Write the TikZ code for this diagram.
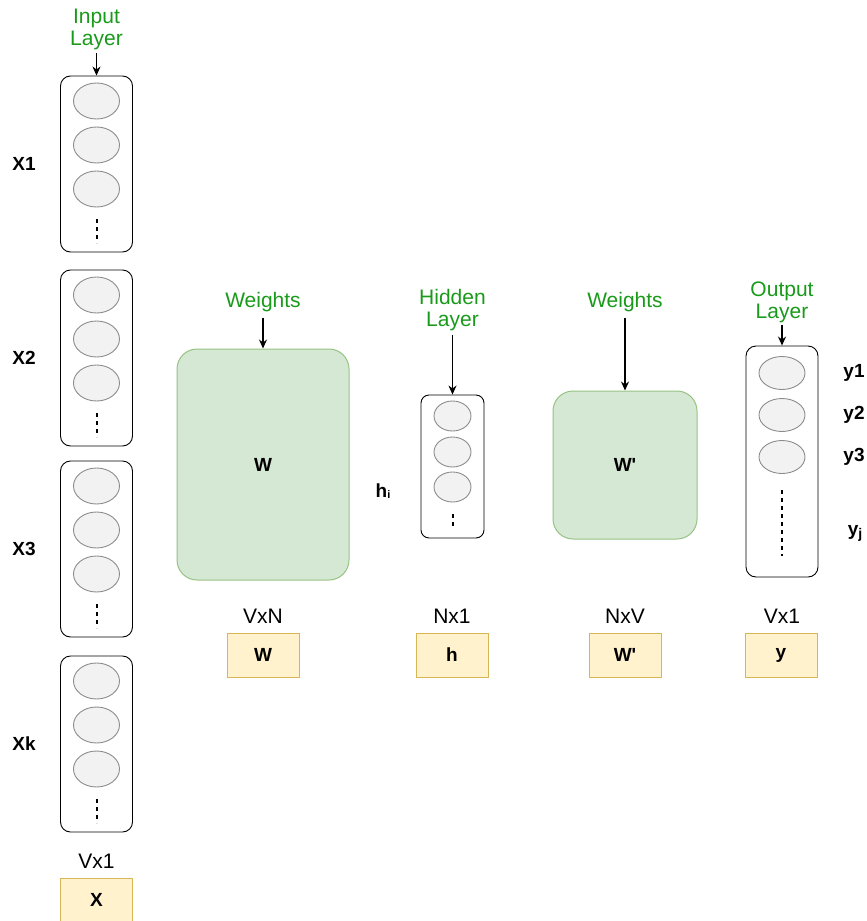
\documentclass[tikz,border=0pt]{standalone}
\usepackage{fontspec}
\setmainfont{Liberation Sans}
\usetikzlibrary{arrows.meta,shapes.geometric}
\definecolor{lblgreen}{HTML}{1A9A1A}
\definecolor{wfill}{HTML}{D5E8D4}
\definecolor{wdraw}{HTML}{97C283}
\definecolor{yfill}{HTML}{FFF2CC}
\definecolor{ydraw}{HTML}{D6B656}
\definecolor{cfill}{HTML}{F2F2F2}
\definecolor{cdraw}{HTML}{8C8C8C}
\begin{document}
\begin{tikzpicture}[x=1pt,y=-1pt,
  lbl/.style={text=lblgreen, font=\fontsize{21}{22}\selectfont, align=center, inner sep=0pt},
  dimlbl/.style={font=\fontsize{21}{24}\selectfont, inner sep=0pt},
  boldlbl/.style={font=\fontsize{19}{21}\selectfont\bfseries, inner sep=0pt},
  layerbox/.style={draw=black, line width=0.9pt, rounded corners=10pt, inner sep=0pt},
  neuron/.style={ellipse, draw=cdraw, fill=cfill, line width=0.9pt, inner sep=0pt},
  wbox/.style={draw=wdraw, fill=wfill, line width=1pt, rounded corners=20pt, inner sep=0pt,
    font=\fontsize{19}{21}\selectfont\bfseries},
  tagbox/.style={draw=ydraw, fill=yfill, line width=1pt, minimum width=72pt, minimum height=44pt,
    inner sep=0pt, font=\fontsize{19}{21}\selectfont\bfseries},
  arr/.style={-{Stealth[length=9pt,width=8pt]}, line width=1.3pt},
  dots/.style={dash pattern=on 4pt off 4pt, line width=2pt},
]
\useasboundingbox (0,0) rectangle (867,921);

% ---------- input layer: one word vector per context word ----------
\foreach \t/\n/\lab in {76/1/X1, 270/2/X2, 461/3/X3, 656/4/Xk} {
  \node[layerbox, minimum width=72pt, minimum height=176pt] (in\n) at (96.5,\t+88) {};
  \foreach \k/\dy in {a/25, b/69, c/113}
    \node[neuron, minimum width=46pt, minimum height=36pt] (in\n\k) at (96.5,\t+\dy) {};
  \draw[dots] (96.5,\t+143) -- (96.5,\t+167);
  \node[boldlbl] (xl\n) at (24,\t+88) {\lab};
}
\node[lbl] (inlbl) at (96.5,29) {Input\\Layer};
\draw[arr, shorten <=3pt] (inlbl) -- (in1);
\node[dimlbl] (dimx) at (96.5,861) {Vx1};
\node[tagbox] (tagx) at (96.5,900) {X};

% ---------- input-to-hidden weights ----------
\node[wbox, minimum width=172pt, minimum height=231pt] (wmat) at (263,464.5) {W};
\node[lbl] (wlbl) at (263,302) {Weights};
\draw[arr, shorten <=6pt] (wlbl) -- (wmat);
\node[dimlbl] (dimw) at (263,616) {VxN};
\node[tagbox] (tagw) at (263,655) {W};

% ---------- hidden layer ----------
\node[layerbox, rounded corners=8pt, minimum width=63pt, minimum height=143pt] (hid) at (452.5,466.5) {};
\foreach \k/\yy in {a/416, b/452, c/487}
  \node[neuron, minimum width=37pt, minimum height=30pt] (hid\k) at (452.5,\yy) {};
\draw[dots] (452.5,514) -- (452.5,528);
\node[lbl] (hidlbl) at (452.5,310) {Hidden\\Layer};
\draw[arr, shorten <=4pt] (hidlbl) -- (hid);
\node[boldlbl] (hi) at (383,491) {h\raisebox{-1pt}{\fontsize{11}{11}\selectfont i}};
\node[dimlbl] (dimh) at (452,616) {Nx1};
\node[tagbox] (tagh) at (452,655) {h};

% ---------- hidden-to-output weights ----------
\node[wbox, minimum width=144pt, minimum height=148pt] (wpmat) at (625,465) {W\textquotesingle};
\node[lbl] (wplbl) at (625,302) {Weights};
\draw[arr, shorten <=6pt] (wplbl) -- (wpmat);
\node[dimlbl] (dimwp) at (625,616) {NxV};
\node[tagbox] (tagwp) at (625,655) {W\textquotesingle};

% ---------- output layer ----------
\node[layerbox, minimum width=72pt, minimum height=231pt] (out) at (782,461.5) {};
\foreach \k/\yy/\lab in {a/373/y1, b/415/y2, c/457/y3} {
  \node[neuron, minimum width=46pt, minimum height=33pt] (out\k) at (782,\yy) {};
  \node[boldlbl] (yl\k) at (854,\yy) {\lab};
}
\draw[dots] (782,490) -- (782,556);
\node[boldlbl] (ylj) at (855,533) {y\raisebox{-3pt}{\fontsize{14}{14}\selectfont j}};
\node[lbl] (outlbl) at (782,302) {Output\\Layer};
\draw[arr, shorten <=2pt] (outlbl) -- (out);
\node[dimlbl] (dimy) at (782,616) {Vx1};
\node[tagbox] (tagy) at (781,655) {y};
\end{tikzpicture}
\end{document}
